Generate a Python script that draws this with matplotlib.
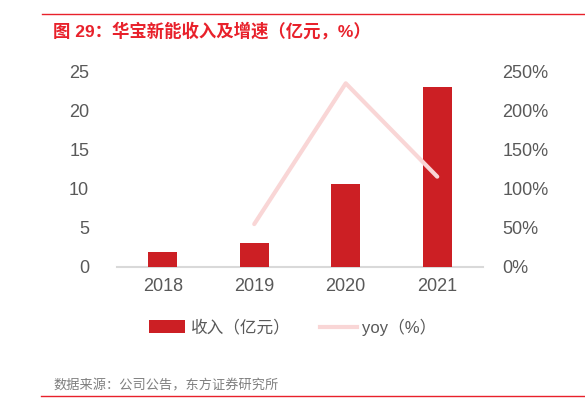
import matplotlib
matplotlib.use("Agg")
import matplotlib.pyplot as plt
from matplotlib.lines import Line2D
from matplotlib.patches import Patch

plt.rcParams["font.family"] = ["Liberation Sans", "Noto Sans CJK SC", "DejaVu Sans"]

years = ["2018", "2019", "2020", "2021"]
revenue = [1.92, 3.04, 10.64, 23.04]      # 亿元
yoy_years = ["2019", "2020", "2021"]
yoy = [55.0, 235.5, 115.8]                # %
left_ticks = [0, 5, 10, 15, 20, 25]
right_ticks = [0, 50, 100, 150, 200, 250]

RED = "#CC1F24"
PINK = "#F9D6D6"
GREY = "#595959"
LINE_RED = "#E8212B"

fig = plt.figure(figsize=(5.85, 4.19), dpi=100)
ax = fig.add_axes([0.2, 0.3628, 0.6256, 0.4654])
ax2 = ax.twinx()

x = list(range(len(years)))
ax.bar(x, revenue, width=0.32, color=RED, zorder=3)
ax.set_xlim(-0.5, 3.5)
ax.set_ylim(0, 25)
ax.set_yticks(left_ticks)
ax.set_xticks(x)
ax.set_xticklabels(years)

xl = [years.index(y) for y in yoy_years]
ax2.plot(xl, yoy, color=PINK, lw=3, solid_capstyle="round", zorder=4)
ax2.set_ylim(0, 250)
ax2.set_yticks(right_ticks)
ax2.set_yticklabels([f"{v}%" for v in right_ticks])

for a in (ax, ax2):
    for s in a.spines.values():
        s.set_visible(False)
    a.tick_params(length=0, labelsize=13, colors=GREY)
ax.spines["bottom"].set_visible(True)
ax.spines["bottom"].set_color("#D9D9D9")
ax.spines["bottom"].set_linewidth(1.5)
ax.tick_params(axis="y", pad=20)
ax.tick_params(axis="x", pad=8)
ax2.tick_params(axis="y", pad=14)

# title and source
fig.add_artist(Line2D([42 / 585, 1], [1 - 14.5 / 419] * 2, color=LINE_RED, lw=1))
fig.text(53 / 585, 1 - 31 / 419, "图 29：华宝新能收入及增速（亿元，%）", color=LINE_RED,
         fontsize=12.5, fontweight="bold", va="center", ha="left")
fig.text(53 / 585, 1 - 386 / 419, "数据来源：公司公告，东方证券研究所", color="#7F7F7F",
         fontsize=9.5, va="center", ha="left")
fig.add_artist(Line2D([41 / 585, 1], [1 - 396 / 419] * 2, color=LINE_RED, lw=1))

handles = [Patch(facecolor=RED, edgecolor="none", label="收入（亿元）"),
           Line2D([0], [0], color=PINK, lw=3, label="yoy（%）")]
fig.legend(handles=handles, loc="center", bbox_to_anchor=(0.5, 1 - 327 / 419), ncol=2,
           frameon=False, fontsize=12, labelcolor=GREY, handlelength=2.2,
           handleheight=0.8, columnspacing=1.8, handletextpad=0.3)

fig.savefig("out.png", dpi=100)
